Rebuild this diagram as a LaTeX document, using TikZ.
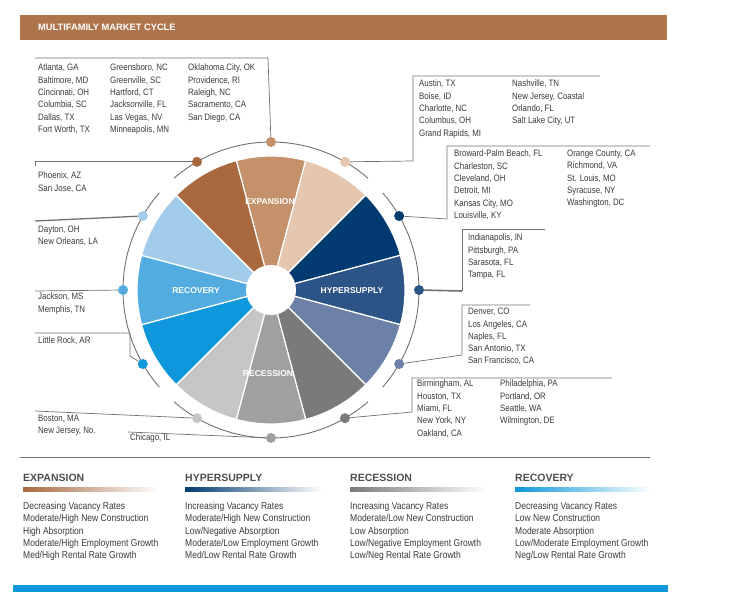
\documentclass[tikz,border=0pt]{standalone}
\usepackage{fontspec}
\usetikzlibrary{calc}
\setmainfont{Liberation Sans}[FakeStretch=0.85]
\newfontfamily\hd{Liberation Sans}
\definecolor{cA}{HTML}{C4916B}\definecolor{cB}{HTML}{A8693F}\definecolor{cC}{HTML}{E5C7B0}
\definecolor{cD}{HTML}{003A70}\definecolor{cE}{HTML}{2D5487}\definecolor{cF}{HTML}{6C80A8}
\definecolor{cG}{HTML}{7A7A7A}\definecolor{cH}{HTML}{A0A0A0}\definecolor{cI}{HTML}{C6C6C6}
\definecolor{cJ}{HTML}{0E97DB}\definecolor{cK}{HTML}{52ACE0}\definecolor{cL}{HTML}{A3CCEB}
\definecolor{hdr}{HTML}{AE754C}\definecolor{txt}{HTML}{3A3A3A}\definecolor{lnc}{HTML}{707070}
\begin{document}
\begin{tikzpicture}[x=1pt,y=-1pt,
  city/.style={anchor=north west,inner sep=0,align=left,font=\fontsize{9.3}{12.3}\selectfont,text=txt},
  leg/.style={anchor=north west,inner sep=0,align=left,font=\fontsize{10}{12.3}\selectfont,text=txt},
  legh/.style={anchor=west,inner sep=0,font=\hd\bfseries\fontsize{10.5}{12}\selectfont,text=txt!90},
  wlab/.style={inner sep=0,font=\hd\bfseries\fontsize{8.5}{10}\selectfont,text=white},
  dotn/.style={circle,inner sep=0,minimum size=10pt},
  conn/.style={draw=lnc,line width=0.7pt}]
\useasboundingbox (0,0) rectangle (750,603);
\fill[hdr] (20,15) rectangle (667,40);
\node[anchor=west,inner sep=0,text=white,font=\hd\bfseries\fontsize{9.3}{11}\selectfont] (title) at (38,27.5) {MULTIFAMILY MARKET CYCLE};
\coordinate (C) at (271,290);
% ring
\foreach \a in {45,135,225,315}{
  \draw[lnc,line width=0.9pt] ($(C)+({-(\a+4)}:148)$) arc[start angle={-(\a+4)},end angle={-(\a+86)},radius=148];}
% wedges
\foreach \a/\c in {90/cA,120/cB,60/cC,30/cD,0/cE,-30/cF,-60/cG,-90/cH,-120/cI,-150/cJ,180/cK,150/cL}{
  \filldraw[fill=\c,draw=white,line width=1.2pt] (C) -- ++({-(\a-15)}:134) arc[start angle={-(\a-15)},end angle={-(\a+15)},radius=134] -- cycle;}
\fill[white] (C) circle (25);
\node[wlab] (lexp) at (270,202) {EXPANSION};
\node[wlab] (lhyp) at (352,291) {HYPERSUPPLY};
\node[wlab] (lrec) at (268,374) {RECESSION};
\node[wlab] (lrcv) at (196,291) {RECOVERY};
% dots
\foreach \a/\c/\n in {90/cA/d1,120/cB/d2,60/cC/d3,30/cD/d4,0/cE/d5,-30/cF/d6,-60/cG/d7,-90/cH/d8,-120/cI/d9,-150/cJ/d10,180/cK/d11,150/cL/d12}{
  \node[dotn,fill=\c] (\n) at ($(C)+({-\a}:148)$) {};}
% connectors
\coordinate (k1a) at (35,58);\coordinate (k1b) at (268,58);
\draw[conn] (k1a) -- (k1b) -- (d1);
\coordinate (k2) at (35,166); \draw[conn] (k2) -- (d2.center -| k2) -- (d2);
\coordinate (k12) at (35,221); \draw[conn,line width=1.3pt] (k12) -- (d12);
\coordinate (k11) at (35,291); \draw[conn] (k11) -- (d11);
\coordinate (k10a) at (35,333);\coordinate (k10b) at (130,333);\coordinate (k10c) at (130,356);
\draw[conn] (k10a) -- (k10b) -- (k10c) -- (d10);
\coordinate (k9) at (35,411); \draw[conn] (k9) -- (d9);
\coordinate (k8) at (128,432); \draw[conn] (k8) -- (d8);
\coordinate (k3a) at (413,161);\coordinate (k3b) at (413,76);\coordinate (k3c) at (600,76);
\draw[conn] (d3) -- (k3a) -- (k3b) -- (k3c);
\coordinate (k4a) at (447,219);\coordinate (k4b) at (447,146);\coordinate (k4c) at (650,146);
\draw[conn] (d4) -- (k4a) -- (k4b) -- (k4c);
\coordinate (k5a) at (462,291);\coordinate (k5b) at (462,229);\coordinate (k5c) at (545,229);
\draw[conn,line width=1.6pt] (d5) -- (k5a); \draw[conn] (k5a) -- (k5b) -- (k5c);
\coordinate (k6a) at (462,355);\coordinate (k6b) at (462,305);\coordinate (k6c) at (530,305);
\draw[conn] (d6) -- (k6a) -- (k6b) -- (k6c);
\coordinate (k7a) at (412,412);\coordinate (k7b) at (412,378);\coordinate (k7c) at (612,378);
\draw[conn] (d7) -- (k7a) -- (k7b) -- (k7c);
% city texts
\node[city] (t1a) at (38,64) {Atlanta, GA\\Baltimore, MD\\Cincinnati, OH\\Columbia, SC\\Dallas, TX\\Fort Worth, TX};
\node[city] (t1b) at (110,64) {Greensboro, NC\\Greenville, SC\\Hartford, CT\\Jacksonville, FL\\Las Vegas, NV\\Minneapolis, MN};
\node[city] (t1c) at (188,64) {Oklahoma City, OK\\Providence, RI\\Raleigh, NC\\Sacramento, CA\\San Diego, CA};
\node[city] (t2) at (38,172) {Phoenix, AZ\\San Jose, CA};
\node[city] (t12) at (38,226) {Dayton, OH\\New Orleans, LA};
\node[city] (t11) at (38,293) {Jackson, MS\\Memphis, TN};
\node[city] (t10) at (38,337) {Little Rock, AR};
\node[city] (t9) at (38,415) {Boston, MA\\New Jersey, No.};
\node[city] (t8) at (130,434) {Chicago, IL};
\node[city] (t3a) at (419,80) {Austin, TX\\Boise, ID\\Charlotte, NC\\Columbus, OH\\Grand Rapids, MI};
\node[city] (t3b) at (512,80) {Nashville, TN\\New Jersey, Coastal\\Orlando, FL\\Salt Lake City, UT};
\node[city] (t4a) at (454,150) {Broward-Palm Beach, FL\\Charleston, SC\\Cleveland, OH\\Detroit, MI\\Kansas City, MO\\Louisville, KY};
\node[city] (t4b) at (567,150) {Orange County, CA\\Richmond, VA\\St. Louis, MO\\Syracuse, NY\\Washington, DC};
\node[city] (t5) at (468,234) {Indianapolis, IN\\Pittsburgh, PA\\Sarasota, FL\\Tampa, FL};
\node[city] (t6) at (468,308) {Denver, CO\\Los Angeles, CA\\Naples, FL\\San Antonio, TX\\San Francisco, CA};
\node[city] (t7a) at (417,380) {Birmingham, AL\\Houston, TX\\Miami, FL\\New York, NY\\Oakland, CA};
\node[city] (t7b) at (500,380) {Philadelphia, PA\\Portland, OR\\Seattle, WA\\Wilmington, DE};
% legend
\coordinate (s1) at (20,457);\coordinate (s2) at (650,457);
\draw[lnc,line width=0.8pt] (s1) -- (s2);
\node[legh] (h1) at (23,478) {EXPANSION};
\node[legh] (h2) at (185,478) {HYPERSUPPLY};
\node[legh] (h3) at (350,478) {RECESSION};
\node[legh] (h4) at (515,478) {RECOVERY};
\shade[left color=cB,right color=white] (23,487.5) rectangle (160,491);
\shade[left color=cD,right color=white] (185,487.5) rectangle (322,491);
\shade[left color=cG,right color=white] (350,487.5) rectangle (487,491);
\shade[left color=cJ,right color=white] (515,487.5) rectangle (652,491);
\node[leg] (g1) at (23,502) {Decreasing Vacancy Rates\\Moderate/High New Construction\\High Absorption\\Moderate/High Employment Growth\\Med/High Rental Rate Growth};
\node[leg] (g2) at (185,502) {Increasing Vacancy Rates\\Moderate/High New Construction\\Low/Negative Absorption\\Moderate/Low Employment Growth\\Med/Low Rental Rate Growth};
\node[leg] (g3) at (350,502) {Increasing Vacancy Rates\\Moderate/Low New Construction\\Low Absorption\\Low/Negative Employment Growth\\Low/Neg Rental Rate Growth};
\node[leg] (g4) at (515,502) {Decreasing Vacancy Rates\\Low New Construction\\Moderate Absorption\\Low/Moderate Employment Growth\\Neg/Low Rental Rate Growth};
\fill[cJ] (13,585) rectangle (668,592);
\end{tikzpicture}
\end{document}
